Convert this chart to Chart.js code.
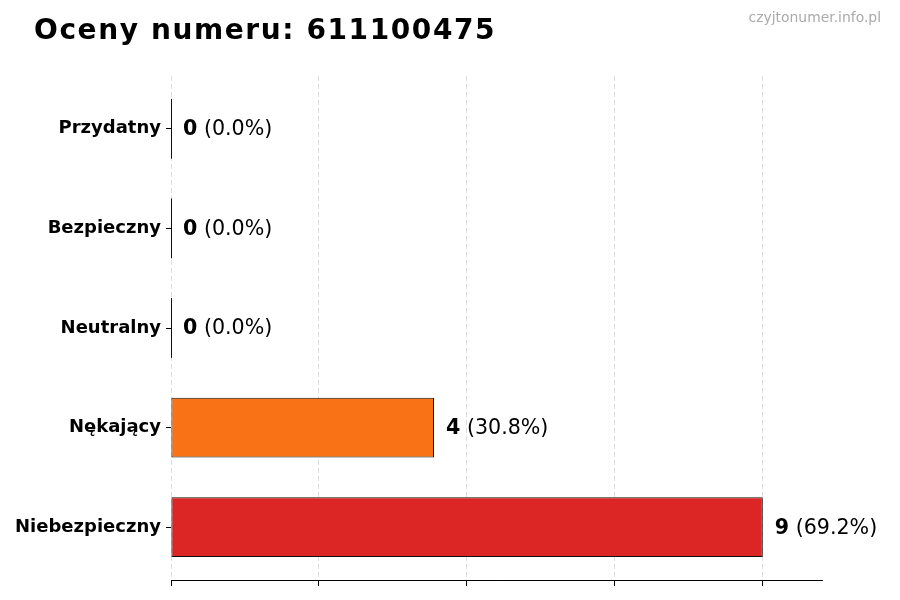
<!DOCTYPE html>
<html>
<head>
<meta charset="utf-8">
<script src="https://cdn.jsdelivr.net/npm/chart.js@4.4.0/dist/chart.umd.min.js"></script>
<style>
  html, body { margin: 0; padding: 0; background: #fff; }
  #wrap { position: relative; width: 900px; height: 600px; }
  #title { position: absolute; left: 34px; top: 13px; font-family: 'DejaVu Sans', sans-serif; font-weight: bold; font-size: 28px; letter-spacing: 1.6px; line-height: normal; color: #000; white-space: nowrap; }
  #mark { position: absolute; right: 19px; top: 9px; font-family: 'DejaVu Sans', sans-serif; font-size: 13.9px; line-height: normal; color: #aaaaaa; white-space: nowrap; }
  canvas { position: absolute; left: 0; top: 0; }
</style>
</head>
<body>
<div id="wrap">
  <canvas id="c" width="900" height="600"></canvas>
  <div id="title">Oceny numeru: 611100475</div>
  <div id="mark">czyjtonumer.info.pl</div>
</div>
<script>
const categories = ['Przydatny', 'Bezpieczny', 'Neutralny', 'Nękający', 'Niebezpieczny'];
const counts = [0, 0, 0, 4, 9];
const barColors = ['#16a34a', '#22c55e', '#9ca3af', '#f97316', '#dc2626'];
const xTicks = [0, 2.25, 4.5, 6.75, 9];
const xMax = 9.9;

const total = counts.reduce((a, b) => a + b, 0);
const FONT = "'DejaVu Sans', sans-serif";
const points = counts.map((v, i) => ({ x: v, y: i }));

const labelPlugin = {
  id: 'valueLabels',
  afterDatasetsDraw(chart) {
    const ctx = chart.ctx;
    const xs = chart.scales.x;
    const meta = chart.getDatasetMeta(0);
    ctx.save();
    meta.data.forEach((bar, i) => {
      const v = counts[i];
      const y = bar.y;
      const h = bar.height;
      if (v === 0) {
        const x0 = xs.getPixelForValue(0);
        ctx.strokeStyle = '#111';
        ctx.lineWidth = 1;
        ctx.beginPath();
        ctx.moveTo(x0 + 0.5, y - h / 2);
        ctx.lineTo(x0 + 0.5, y + h / 2);
        ctx.stroke();
      }
      let x = xs.getPixelForValue(v) + 12;
      ctx.textBaseline = 'middle';
      ctx.textAlign = 'left';
      ctx.fillStyle = '#000';
      ctx.font = 'bold 20.6px ' + FONT;
      const s1 = String(v);
      ctx.fillText(s1, x, y + 1);
      x += ctx.measureText(s1).width;
      ctx.font = '20.6px ' + FONT;
      const pct = total ? (v / total * 100) : 0;
      ctx.fillText(' (' + pct.toFixed(1) + '%)', x, y + 1);
    });
    ctx.restore();
  }
};

new Chart(document.getElementById('c'), {
  type: 'bar',
  data: {
    datasets: [{
      data: points,
      backgroundColor: barColors,
      borderColor: '#111',
      borderWidth: 1,
      borderSkipped: false,
      categoryPercentage: 0.6,
      barPercentage: 1.0
    }]
  },
  options: {
    indexAxis: 'y',
    responsive: false,
    animation: false,
    devicePixelRatio: 1,
    layout: { padding: { left: 0, top: 76, right: 78, bottom: 0 } },
    plugins: { legend: { display: false }, tooltip: { enabled: false }, title: { display: false } },
    scales: {
      x: {
        type: 'linear',
        min: 0,
        max: xMax,
        afterBuildTicks(scale) { scale.ticks = xTicks.map(v => ({ value: v })); },
        afterFit(scale) { scale.height = 20; },
        ticks: { display: false },
        grid: {
          display: true,
          offset: false,
          drawOnChartArea: true,
          drawTicks: true,
          tickLength: 6,
          color: '#d4d4d4',
          lineWidth: 0.8,
          tickColor: '#000',
          tickWidth: 1,
          tickBorderDash: []
        },
        border: { display: true, color: '#000', width: 1, dash: [5, 3] }
      },
      y: {
        type: 'linear',
        reverse: true,
        min: -0.53,
        max: 4.53,
        offset: false,
        afterBuildTicks(scale) { scale.ticks = categories.map((c, i) => ({ value: i })); },
        afterFit(scale) { scale.width = 171; },
        ticks: {
          color: '#000',
          padding: 5,
          font: { family: FONT, weight: 'bold', size: 18 },
          callback: (v) => categories[v]
        },
        grid: {
          display: true,
          offset: false,
          drawOnChartArea: false,
          drawTicks: true,
          tickLength: 5,
          tickColor: '#000',
          tickWidth: 1
        },
        border: { display: false }
      }
    }
  },
  plugins: [labelPlugin]
});
</script>
</body>
</html>
